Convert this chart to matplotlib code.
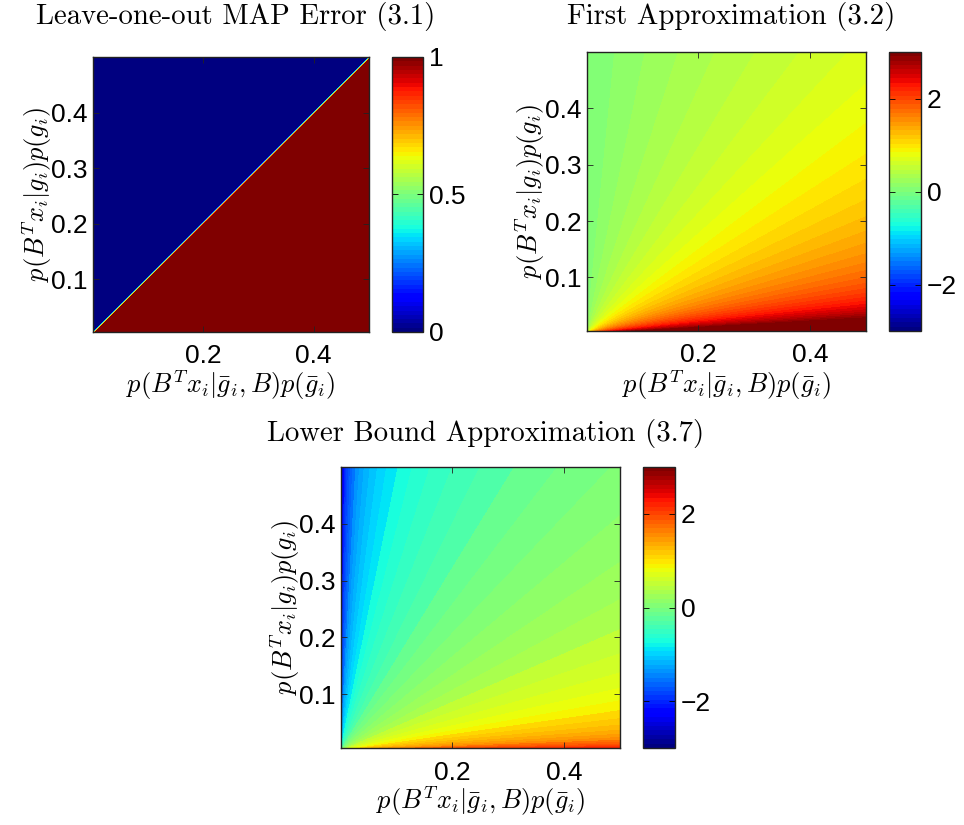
import numpy as np
import matplotlib
matplotlib.use("Agg")
import matplotlib.pyplot as plt
from matplotlib.colors import Normalize
from matplotlib.cm import ScalarMappable

plt.rcParams["mathtext.fontset"] = "cm"
plt.rcParams["font.family"] = ["Liberation Sans", "DejaVu Sans"]
plt.rcParams["axes.unicode_minus"] = True

# grid of the two weighted densities
x_start, y_start, p_stop = 0.001, 0.005, 0.5
n_grid_err, n_grid_approx = 100, 600
n_levels = 50

x_ticks = [0.2, 0.4]
y_ticks = [0.1, 0.2, 0.3, 0.4]
err_ticks = [0, 0.5, 1]
err_ticklabels = ["0", "0.5", "1"]
approx_ticks = [-2, 0, 2]
err_clim = (0, 1)
approx_clim = (-3, 3)

titles = ["Leave-one-out MAP Error (3.1)",
          "First Approximation (3.2)",
          "Lower Bound Approximation (3.7)"]
xlabel = r"$p(B^Tx_i|\bar{g}_i,B)p(\bar{g}_i)$"
ylabel = r"$p(B^Tx_i|g_i)p(g_i)$"


def grid(n):
    return np.meshgrid(np.linspace(x_start, p_stop, n),
                       np.linspace(y_start, p_stop, n))


Xe, Ye = grid(n_grid_err)
Z_err = (Xe > Ye).astype(float)

Xa, Ya = grid(n_grid_approx)
ratio = Xa / Ya
Z_first = np.log1p(ratio)
Z_lower = 0.5 * np.log(ratio)

W, H = 964, 825
fig = plt.figure(figsize=(W / 100, H / 100), dpi=100)
cmap = plt.get_cmap("jet", 64)
FS = 19
TITLE_FS = 20.7


def rect(l, t, r, b):
    return [l / W, 1 - b / H, (r - l) / W, (b - t) / H]


def style(ax):
    ax.tick_params(direction="in", length=4, width=0.6, top=True, right=True,
                   labelsize=FS, colors="#222222", labelcolor="black")
    for s in ax.spines.values():
        s.set_linewidth(1.0)
        s.set_color("#222222")


def panel(ax_box, cb_box, X, Y, Z, clim, levels, cticks, cticklabels, title,
          title_y, xlab_y, ylab_x):
    ax = fig.add_axes(rect(*ax_box))
    norm = Normalize(*clim)
    ax.contourf(X, Y, Z, levels=levels, cmap=cmap, norm=norm)
    ax.set_xlim(x_start, p_stop)
    ax.set_ylim(y_start, p_stop)
    ax.set_xticks(x_ticks)
    ax.set_yticks(y_ticks)
    ax.set_xticklabels([f"{t:g}" for t in x_ticks])
    ax.set_yticklabels([f"{t:g}" for t in y_ticks])
    style(ax)
    ax.tick_params(axis="x", pad=9)
    ax.tick_params(axis="y", pad=4)

    cax = fig.add_axes(rect(*cb_box))
    cb = fig.colorbar(ScalarMappable(norm=norm, cmap=cmap), cax=cax)
    cb.set_ticks(cticks)
    if cticklabels is not None:
        cb.set_ticklabels(cticklabels)
    cb.outline.set_linewidth(1.0)
    cb.outline.set_edgecolor("#222222")
    cax.tick_params(direction="in", length=4, width=0.6, left=True, right=True,
                    labelsize=FS, pad=4)

    cx = (ax_box[0] + ax_box[2]) / 2
    cy = (ax_box[1] + ax_box[3]) / 2
    fig.text((cx + 5) / W, 1 - title_y / H, title, ha="center", va="center",
             family="cmr10", size=TITLE_FS)
    fig.text(cx / W, 1 - xlab_y / H, xlabel, ha="center", va="center", size=FS)
    fig.text(ylab_x / W, 1 - cy / H, ylabel, ha="center", va="center",
             rotation=90, size=FS)
    return ax


panel((93, 57, 369, 332), (392, 57, 423, 332), Xe, Ye, Z_err, err_clim,
      np.linspace(0, 1, n_levels), err_ticks, err_ticklabels, titles[0],
      16, 385, 37)
panel((587, 52, 866, 331), (889, 52, 921, 331), Xa, Ya, Z_first, approx_clim,
      np.linspace(Z_first.min(), Z_first.max(), n_levels), approx_ticks, None,
      titles[1], 16, 385, 530)
panel((341, 467, 620, 748), (643, 467, 675, 748), Xa, Ya, Z_lower, approx_clim,
      np.linspace(Z_lower.min(), Z_lower.max(), n_levels), approx_ticks, None,
      titles[2], 433, 801, 285)

fig.savefig("out.png", dpi=100)
